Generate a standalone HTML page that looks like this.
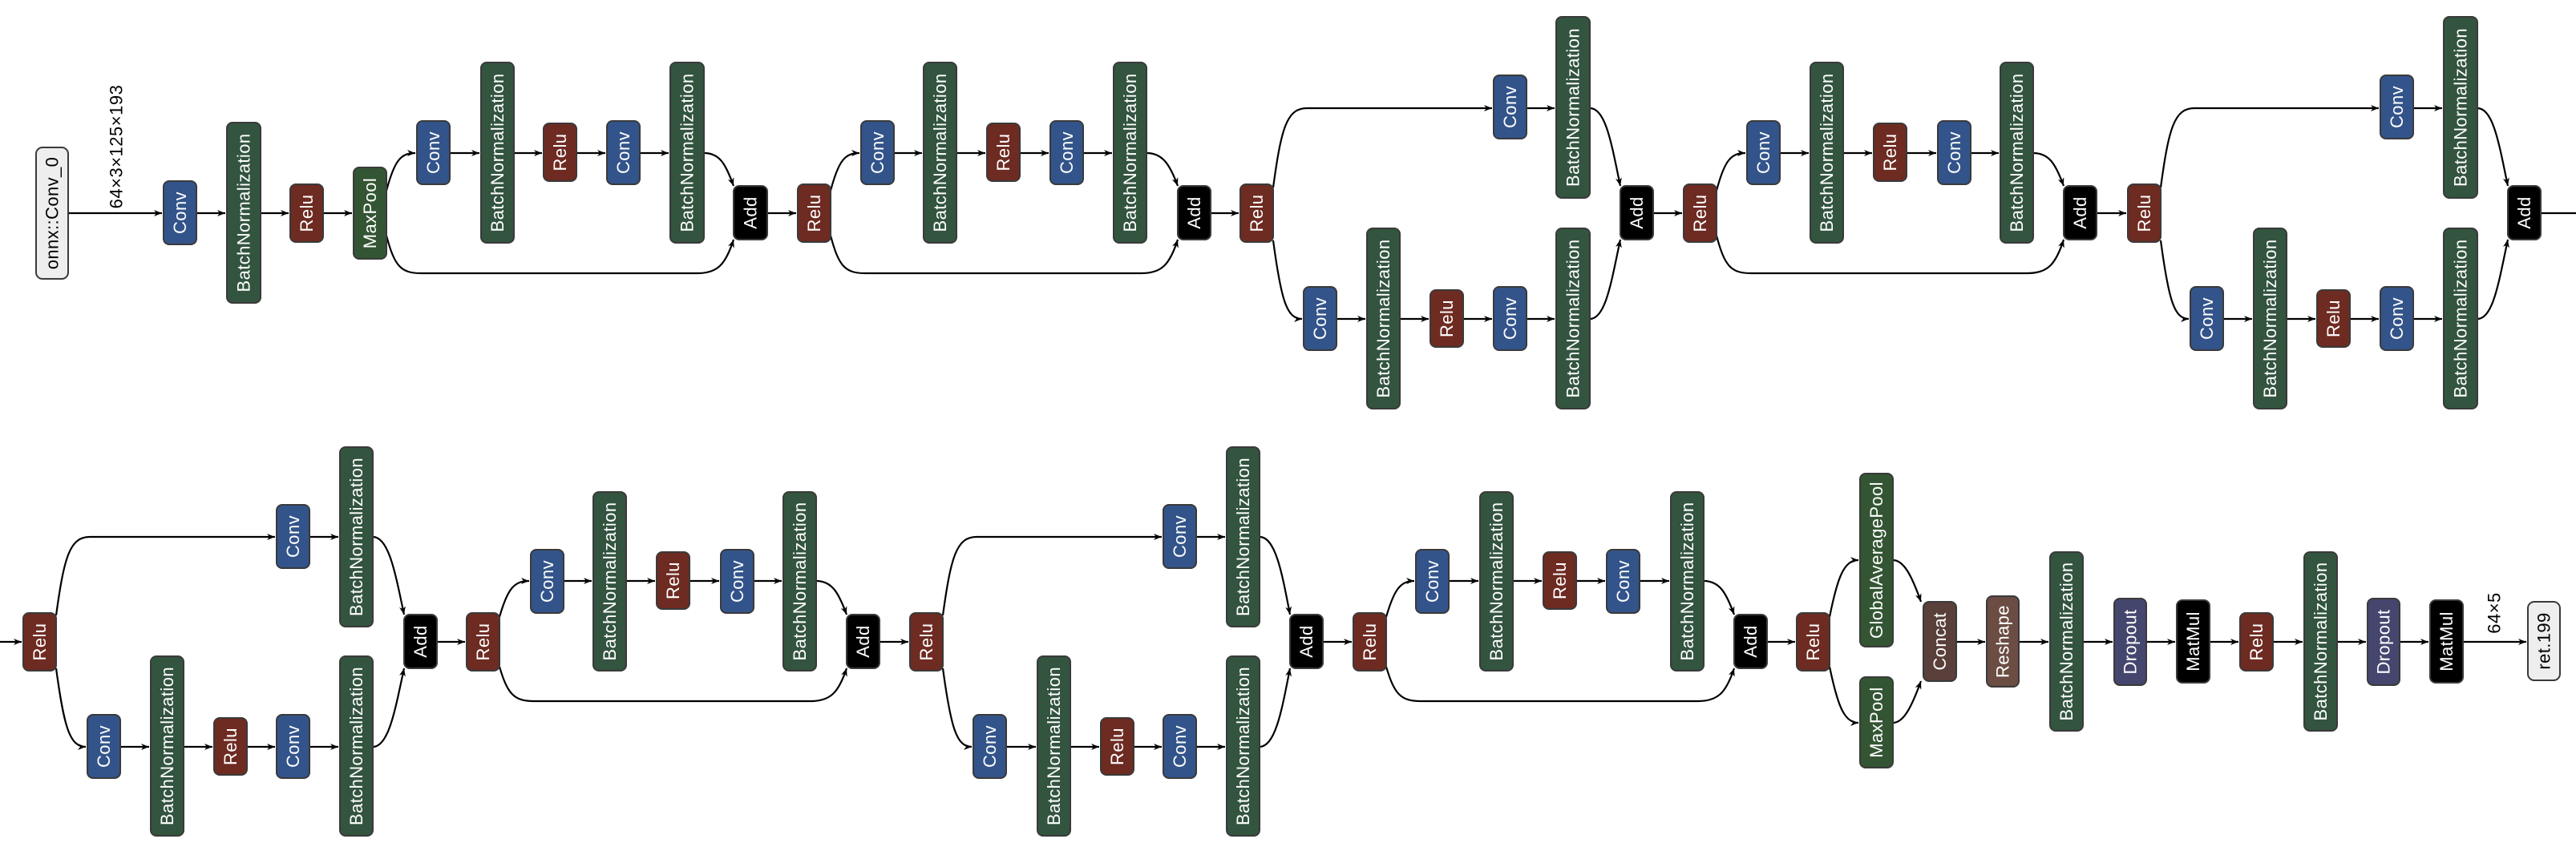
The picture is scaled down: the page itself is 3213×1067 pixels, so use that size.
<!DOCTYPE html>
<html><head><meta charset="utf-8"><style>
html,body{margin:0;padding:0;background:#fff;}
svg{display:block;}
text{font-family:"Liberation Sans",sans-serif;font-size:22px;fill:#fff;text-anchor:middle;dominant-baseline:central;letter-spacing:0.4px;}
.n{stroke:#3a3a3a;stroke-width:2;}
.cv{fill:#33548a}.bn{fill:#33543f}.re{fill:#6e2b22}.mp{fill:#335533}.ad{fill:#000}
.io{fill:#eeeeee}.cc{fill:#5a403a}.rs{fill:#6b4d43}.dr{fill:#45466e}
path.e{fill:none;stroke:#000;stroke-width:2.2;marker-end:url(#a)}
</style></head><body>
<svg width="3213" height="1067" viewBox="0 0 3213 1067" xmlns="http://www.w3.org/2000/svg">
<defs><marker id="a" viewBox="0 0 10 8" refX="10" refY="4" markerWidth="10" markerHeight="8" markerUnits="userSpaceOnUse" orient="auto"><path d="M0,0 L10,4 L0,8 L3,4z" fill="#000"/></marker></defs>

<path class="e" d="M85,266 L202,266"/>
<path class="e" d="M245,266 L281,266"/>
<path class="e" d="M325,266 L360,266"/>
<path class="e" d="M403,266 L439,266"/>
<path class="e" d="M482,238 C492,200 500,191 518,191"/>
<path class="e" d="M561,191 L598,191"/>
<path class="e" d="M641,191 L676,191"/>
<path class="e" d="M719,191 L755,191"/>
<path class="e" d="M798,191 L834,191"/>
<path class="e" d="M878,191 C898,191 905,205 915,232"/>
<path class="e" d="M482,294 C492,332 500,341 525,341 L870,341 C895,341 905,330 915,299"/>
<path class="e" d="M957,266 L993,266"/>
<path class="e" d="M1036,238 C1046,200 1054,191 1072,191"/>
<path class="e" d="M1115,191 L1150,191"/>
<path class="e" d="M1193,191 L1229,191"/>
<path class="e" d="M1272,191 L1308,191"/>
<path class="e" d="M1351,191 L1387,191"/>
<path class="e" d="M1430,191 C1450,191 1459,205 1469,232"/>
<path class="e" d="M1036,294 C1046,332 1054,341 1079,341 L1424,341 C1449,341 1459,330 1469,299"/>
<path class="e" d="M1510,266 L1545,266"/>
<path class="e" d="M1588,234 C1598,160 1605,135 1630,135 L1861,135"/>
<path class="e" d="M1904,135 L1939,135"/>
<path class="e" d="M1983,135 C2003,135 2010,180 2021,232"/>
<path class="e" d="M1588,300 C1598,375 1605,398 1624,398"/>
<path class="e" d="M1667,398 L1703,398"/>
<path class="e" d="M1746,398 L1782,398"/>
<path class="e" d="M1825,398 L1861,398"/>
<path class="e" d="M1904,398 L1939,398"/>
<path class="e" d="M1983,398 C2003,398 2010,350 2021,299"/>
<path class="e" d="M2062,266 L2098,266"/>
<path class="e" d="M2141,238 C2151,200 2159,191 2177,191"/>
<path class="e" d="M2220,191 L2256,191"/>
<path class="e" d="M2299,191 L2335,191"/>
<path class="e" d="M2378,191 L2415,191"/>
<path class="e" d="M2458,191 L2493,191"/>
<path class="e" d="M2536,191 C2556,191 2564,205 2574,232"/>
<path class="e" d="M2141,294 C2151,332 2159,341 2184,341 L2529,341 C2554,341 2564,330 2574,299"/>
<path class="e" d="M2615,266 L2652,266"/>
<path class="e" d="M2695,234 C2705,160 2712,135 2737,135 L2967,135"/>
<path class="e" d="M3010,135 L3046,135"/>
<path class="e" d="M3090,135 C3110,135 3117,180 3128,232"/>
<path class="e" d="M2695,300 C2705,375 2712,398 2730,398"/>
<path class="e" d="M2773,398 L2809,398"/>
<path class="e" d="M2852,398 L2888,398"/>
<path class="e" d="M2931,398 L2967,398"/>
<path class="e" d="M3010,398 L3046,398"/>
<path class="e" d="M3090,398 C3110,398 3117,350 3128,299"/>
<path d="M3169,266 L3213,266" fill="none" stroke="#000" stroke-width="2.2"/>

<path class="e" d="M0,801 L27,801"/>
<path class="e" d="M70,768 C80,695 87,670 112,670 L343,670"/>
<path class="e" d="M386,670 L422,670"/>
<path class="e" d="M465,670 C485,670 493,715 504,767"/>
<path class="e" d="M70,834 C80,908 87,932 107,932"/>
<path class="e" d="M150,932 L186,932"/>
<path class="e" d="M229,932 L265,932"/>
<path class="e" d="M308,932 L343,932"/>
<path class="e" d="M386,932 L422,932"/>
<path class="e" d="M465,932 C485,932 493,885 504,834"/>
<path class="e" d="M545,801 L580,801"/>
<path class="e" d="M623,770 C633,735 641,725 660,725"/>
<path class="e" d="M703,725 L738,725"/>
<path class="e" d="M781,725 L817,725"/>
<path class="e" d="M860,725 L897,725"/>
<path class="e" d="M940,725 L975,725"/>
<path class="e" d="M1018,725 C1038,725 1046,740 1056,767"/>
<path class="e" d="M623,832 C633,866 641,875 666,875 L1011,875 C1036,875 1046,864 1056,834"/>
<path class="e" d="M1097,801 L1133,801"/>
<path class="e" d="M1176,768 C1186,695 1193,670 1218,670 L1449,670"/>
<path class="e" d="M1492,670 L1528,670"/>
<path class="e" d="M1571,670 C1591,670 1599,715 1609,767"/>
<path class="e" d="M1176,834 C1186,908 1193,932 1212,932"/>
<path class="e" d="M1255,932 L1292,932"/>
<path class="e" d="M1335,932 L1371,932"/>
<path class="e" d="M1414,932 L1449,932"/>
<path class="e" d="M1492,932 L1528,932"/>
<path class="e" d="M1571,932 C1591,932 1599,885 1609,834"/>
<path class="e" d="M1650,801 L1686,801"/>
<path class="e" d="M1729,770 C1739,735 1747,725 1764,725"/>
<path class="e" d="M1807,725 L1844,725"/>
<path class="e" d="M1887,725 L1923,725"/>
<path class="e" d="M1966,725 L2002,725"/>
<path class="e" d="M2045,725 L2082,725"/>
<path class="e" d="M2125,725 C2145,725 2153,740 2163,767"/>
<path class="e" d="M1729,832 C1739,866 1747,875 1772,875 L2118,875 C2143,875 2153,864 2163,834"/>
<path class="e" d="M2204,801 L2239,801"/>
<path class="e" d="M2282,770 C2292,720 2300,699 2318,699"/>
<path class="e" d="M2282,832 C2292,880 2300,902 2318,902"/>
<path class="e" d="M2361,699 C2375,699 2385,720 2396,751"/>
<path class="e" d="M2361,902 C2375,902 2385,880 2396,850"/>
<path class="e" d="M2440,801 L2476,801"/>
<path class="e" d="M2518,801 L2555,801"/>
<path class="e" d="M2598,801 L2635,801"/>
<path class="e" d="M2677,801 L2713,801"/>
<path class="e" d="M2756,801 L2792,801"/>
<path class="e" d="M2835,801 L2872,801"/>
<path class="e" d="M2915,801 L2951,801"/>
<path class="e" d="M2993,801 L3029,801"/>
<path class="e" d="M3072,801 L3151,801"/>

<text x="145" y="183" transform="rotate(-90 145 183)" style="fill:#000;font-size:22px;letter-spacing:0.5px">64×3×125×193</text>
<text x="3111" y="765" transform="rotate(-90 3111 765)" style="fill:#000;font-size:22px;letter-spacing:0.5px">64×5</text>

<rect class="n io" x="45" y="184" width="40" height="164" rx="8"/><text x="65" y="266" transform="rotate(-90 65 266)" style="fill:#000">onnx::Conv_0</text>
<rect class="n cv" x="204" y="226" width="41" height="79" rx="7"/><text x="224.5" y="265.5" transform="rotate(-90 224.5 265.5)">Conv</text>
<rect class="n bn" x="283" y="153" width="42" height="225" rx="7"/><text x="304" y="265.5" transform="rotate(-90 304 265.5)">BatchNormalization</text>
<rect class="n re" x="362" y="230" width="41" height="72" rx="7"/><text x="382.5" y="266" transform="rotate(-90 382.5 266)">Relu</text>
<rect class="n mp" x="441" y="209" width="41" height="114" rx="7"/><text x="461.5" y="266" transform="rotate(-90 461.5 266)">MaxPool</text>
<rect class="n cv" x="520" y="151" width="41" height="79" rx="7"/><text x="540.5" y="190.5" transform="rotate(-90 540.5 190.5)">Conv</text>
<rect class="n bn" x="600" y="78" width="41" height="225" rx="7"/><text x="620.5" y="190.5" transform="rotate(-90 620.5 190.5)">BatchNormalization</text>
<rect class="n re" x="678" y="154" width="41" height="72" rx="7"/><text x="698.5" y="190" transform="rotate(-90 698.5 190)">Relu</text>
<rect class="n cv" x="757" y="151" width="41" height="79" rx="7"/><text x="777.5" y="190.5" transform="rotate(-90 777.5 190.5)">Conv</text>
<rect class="n bn" x="836" y="78" width="42" height="225" rx="7"/><text x="857" y="190.5" transform="rotate(-90 857 190.5)">BatchNormalization</text>
<rect class="n ad" x="915" y="232" width="42" height="67" rx="7"/><text x="936" y="265.5" transform="rotate(-90 936 265.5)">Add</text>
<rect class="n re" x="995" y="230" width="41" height="72" rx="7"/><text x="1015.5" y="266" transform="rotate(-90 1015.5 266)">Relu</text>
<rect class="n cv" x="1074" y="151" width="41" height="79" rx="7"/><text x="1094.5" y="190.5" transform="rotate(-90 1094.5 190.5)">Conv</text>
<rect class="n bn" x="1152" y="78" width="41" height="225" rx="7"/><text x="1172.5" y="190.5" transform="rotate(-90 1172.5 190.5)">BatchNormalization</text>
<rect class="n re" x="1231" y="154" width="41" height="72" rx="7"/><text x="1251.5" y="190" transform="rotate(-90 1251.5 190)">Relu</text>
<rect class="n cv" x="1310" y="151" width="41" height="79" rx="7"/><text x="1330.5" y="190.5" transform="rotate(-90 1330.5 190.5)">Conv</text>
<rect class="n bn" x="1389" y="78" width="41" height="225" rx="7"/><text x="1409.5" y="190.5" transform="rotate(-90 1409.5 190.5)">BatchNormalization</text>
<rect class="n ad" x="1469" y="232" width="41" height="67" rx="7"/><text x="1489.5" y="265.5" transform="rotate(-90 1489.5 265.5)">Add</text>
<rect class="n re" x="1547" y="230" width="41" height="72" rx="7"/><text x="1567.5" y="266" transform="rotate(-90 1567.5 266)">Relu</text>
<rect class="n cv" x="1863" y="94" width="41" height="79" rx="7"/><text x="1883.5" y="133.5" transform="rotate(-90 1883.5 133.5)">Conv</text>
<rect class="n bn" x="1941" y="21" width="42" height="226" rx="7"/><text x="1962" y="134" transform="rotate(-90 1962 134)">BatchNormalization</text>
<rect class="n cv" x="1626" y="358" width="41" height="79" rx="7"/><text x="1646.5" y="397.5" transform="rotate(-90 1646.5 397.5)">Conv</text>
<rect class="n bn" x="1705" y="285" width="41" height="225" rx="7"/><text x="1725.5" y="397.5" transform="rotate(-90 1725.5 397.5)">BatchNormalization</text>
<rect class="n re" x="1784" y="362" width="41" height="71" rx="7"/><text x="1804.5" y="397.5" transform="rotate(-90 1804.5 397.5)">Relu</text>
<rect class="n cv" x="1863" y="358" width="41" height="79" rx="7"/><text x="1883.5" y="397.5" transform="rotate(-90 1883.5 397.5)">Conv</text>
<rect class="n bn" x="1941" y="285" width="42" height="225" rx="7"/><text x="1962" y="397.5" transform="rotate(-90 1962 397.5)">BatchNormalization</text>
<rect class="n ad" x="2021" y="232" width="41" height="67" rx="7"/><text x="2041.5" y="265.5" transform="rotate(-90 2041.5 265.5)">Add</text>
<rect class="n re" x="2100" y="230" width="41" height="72" rx="7"/><text x="2120.5" y="266" transform="rotate(-90 2120.5 266)">Relu</text>
<rect class="n cv" x="2179" y="151" width="41" height="79" rx="7"/><text x="2199.5" y="190.5" transform="rotate(-90 2199.5 190.5)">Conv</text>
<rect class="n bn" x="2258" y="78" width="41" height="225" rx="7"/><text x="2278.5" y="190.5" transform="rotate(-90 2278.5 190.5)">BatchNormalization</text>
<rect class="n re" x="2337" y="154" width="41" height="72" rx="7"/><text x="2357.5" y="190" transform="rotate(-90 2357.5 190)">Relu</text>
<rect class="n cv" x="2417" y="151" width="41" height="79" rx="7"/><text x="2437.5" y="190.5" transform="rotate(-90 2437.5 190.5)">Conv</text>
<rect class="n bn" x="2495" y="78" width="41" height="225" rx="7"/><text x="2515.5" y="190.5" transform="rotate(-90 2515.5 190.5)">BatchNormalization</text>
<rect class="n ad" x="2574" y="232" width="41" height="67" rx="7"/><text x="2594.5" y="265.5" transform="rotate(-90 2594.5 265.5)">Add</text>
<rect class="n re" x="2654" y="230" width="41" height="72" rx="7"/><text x="2674.5" y="266" transform="rotate(-90 2674.5 266)">Relu</text>
<rect class="n cv" x="2969" y="94" width="41" height="79" rx="7"/><text x="2989.5" y="133.5" transform="rotate(-90 2989.5 133.5)">Conv</text>
<rect class="n bn" x="3048" y="21" width="42" height="226" rx="7"/><text x="3069" y="134" transform="rotate(-90 3069 134)">BatchNormalization</text>
<rect class="n cv" x="2732" y="358" width="41" height="79" rx="7"/><text x="2752.5" y="397.5" transform="rotate(-90 2752.5 397.5)">Conv</text>
<rect class="n bn" x="2811" y="285" width="41" height="225" rx="7"/><text x="2831.5" y="397.5" transform="rotate(-90 2831.5 397.5)">BatchNormalization</text>
<rect class="n re" x="2890" y="362" width="41" height="71" rx="7"/><text x="2910.5" y="397.5" transform="rotate(-90 2910.5 397.5)">Relu</text>
<rect class="n cv" x="2969" y="358" width="41" height="79" rx="7"/><text x="2989.5" y="397.5" transform="rotate(-90 2989.5 397.5)">Conv</text>
<rect class="n bn" x="3048" y="285" width="42" height="225" rx="7"/><text x="3069" y="397.5" transform="rotate(-90 3069 397.5)">BatchNormalization</text>
<rect class="n ad" x="3128" y="232" width="41" height="67" rx="7"/><text x="3148.5" y="265.5" transform="rotate(-90 3148.5 265.5)">Add</text>

<rect class="n re" x="29" y="765" width="41" height="72" rx="7"/><text x="49.5" y="801" transform="rotate(-90 49.5 801)">Relu</text>
<rect class="n cv" x="345" y="630" width="41" height="79" rx="7"/><text x="365.5" y="669.5" transform="rotate(-90 365.5 669.5)">Conv</text>
<rect class="n bn" x="424" y="558" width="41" height="224" rx="7"/><text x="444.5" y="670" transform="rotate(-90 444.5 670)">BatchNormalization</text>
<rect class="n cv" x="109" y="892" width="41" height="79" rx="7"/><text x="129.5" y="931.5" transform="rotate(-90 129.5 931.5)">Conv</text>
<rect class="n bn" x="188" y="819" width="41" height="224" rx="7"/><text x="208.5" y="931" transform="rotate(-90 208.5 931)">BatchNormalization</text>
<rect class="n re" x="267" y="896" width="41" height="71" rx="7"/><text x="287.5" y="931.5" transform="rotate(-90 287.5 931.5)">Relu</text>
<rect class="n cv" x="345" y="892" width="41" height="79" rx="7"/><text x="365.5" y="931.5" transform="rotate(-90 365.5 931.5)">Conv</text>
<rect class="n bn" x="424" y="819" width="41" height="224" rx="7"/><text x="444.5" y="931" transform="rotate(-90 444.5 931)">BatchNormalization</text>
<rect class="n ad" x="504" y="767" width="41" height="67" rx="7"/><text x="524.5" y="800.5" transform="rotate(-90 524.5 800.5)">Add</text>
<rect class="n re" x="582" y="765" width="41" height="72" rx="7"/><text x="602.5" y="801" transform="rotate(-90 602.5 801)">Relu</text>
<rect class="n cv" x="662" y="686" width="41" height="79" rx="7"/><text x="682.5" y="725.5" transform="rotate(-90 682.5 725.5)">Conv</text>
<rect class="n bn" x="740" y="614" width="41" height="223" rx="7"/><text x="760.5" y="725.5" transform="rotate(-90 760.5 725.5)">BatchNormalization</text>
<rect class="n re" x="819" y="689" width="41" height="71" rx="7"/><text x="839.5" y="724.5" transform="rotate(-90 839.5 724.5)">Relu</text>
<rect class="n cv" x="899" y="686" width="41" height="79" rx="7"/><text x="919.5" y="725.5" transform="rotate(-90 919.5 725.5)">Conv</text>
<rect class="n bn" x="977" y="614" width="41" height="223" rx="7"/><text x="997.5" y="725.5" transform="rotate(-90 997.5 725.5)">BatchNormalization</text>
<rect class="n ad" x="1056" y="767" width="41" height="67" rx="7"/><text x="1076.5" y="800.5" transform="rotate(-90 1076.5 800.5)">Add</text>
<rect class="n re" x="1135" y="765" width="41" height="72" rx="7"/><text x="1155.5" y="801" transform="rotate(-90 1155.5 801)">Relu</text>
<rect class="n cv" x="1451" y="630" width="41" height="79" rx="7"/><text x="1471.5" y="669.5" transform="rotate(-90 1471.5 669.5)">Conv</text>
<rect class="n bn" x="1530" y="558" width="41" height="224" rx="7"/><text x="1550.5" y="670" transform="rotate(-90 1550.5 670)">BatchNormalization</text>
<rect class="n cv" x="1214" y="892" width="41" height="79" rx="7"/><text x="1234.5" y="931.5" transform="rotate(-90 1234.5 931.5)">Conv</text>
<rect class="n bn" x="1294" y="819" width="41" height="224" rx="7"/><text x="1314.5" y="931" transform="rotate(-90 1314.5 931)">BatchNormalization</text>
<rect class="n re" x="1373" y="896" width="41" height="71" rx="7"/><text x="1393.5" y="931.5" transform="rotate(-90 1393.5 931.5)">Relu</text>
<rect class="n cv" x="1451" y="892" width="41" height="79" rx="7"/><text x="1471.5" y="931.5" transform="rotate(-90 1471.5 931.5)">Conv</text>
<rect class="n bn" x="1530" y="819" width="41" height="224" rx="7"/><text x="1550.5" y="931" transform="rotate(-90 1550.5 931)">BatchNormalization</text>
<rect class="n ad" x="1609" y="767" width="41" height="67" rx="7"/><text x="1629.5" y="800.5" transform="rotate(-90 1629.5 800.5)">Add</text>
<rect class="n re" x="1688" y="765" width="41" height="72" rx="7"/><text x="1708.5" y="801" transform="rotate(-90 1708.5 801)">Relu</text>
<rect class="n cv" x="1766" y="686" width="41" height="79" rx="7"/><text x="1786.5" y="725.5" transform="rotate(-90 1786.5 725.5)">Conv</text>
<rect class="n bn" x="1846" y="614" width="41" height="223" rx="7"/><text x="1866.5" y="725.5" transform="rotate(-90 1866.5 725.5)">BatchNormalization</text>
<rect class="n re" x="1925" y="689" width="41" height="71" rx="7"/><text x="1945.5" y="724.5" transform="rotate(-90 1945.5 724.5)">Relu</text>
<rect class="n cv" x="2004" y="686" width="41" height="79" rx="7"/><text x="2024.5" y="725.5" transform="rotate(-90 2024.5 725.5)">Conv</text>
<rect class="n bn" x="2084" y="614" width="41" height="223" rx="7"/><text x="2104.5" y="725.5" transform="rotate(-90 2104.5 725.5)">BatchNormalization</text>
<rect class="n ad" x="2163" y="767" width="41" height="67" rx="7"/><text x="2183.5" y="800.5" transform="rotate(-90 2183.5 800.5)">Add</text>
<rect class="n re" x="2241" y="765" width="41" height="72" rx="7"/><text x="2261.5" y="801" transform="rotate(-90 2261.5 801)">Relu</text>
<rect class="n mp" x="2320" y="591" width="41" height="216" rx="7"/><text x="2340.5" y="699" transform="rotate(-90 2340.5 699)">GlobalAveragePool</text>
<rect class="n mp" x="2320" y="845" width="41" height="113" rx="7"/><text x="2340.5" y="901.5" transform="rotate(-90 2340.5 901.5)">MaxPool</text>
<rect class="n cc" x="2399" y="751" width="41" height="99" rx="7"/><text x="2419.5" y="800.5" transform="rotate(-90 2419.5 800.5)">Concat</text>
<rect class="n rs" x="2478" y="744" width="40" height="113" rx="7"/><text x="2498" y="800.5" transform="rotate(-90 2498 800.5)">Reshape</text>
<rect class="n bn" x="2557" y="689" width="41" height="223" rx="7"/><text x="2577.5" y="800.5" transform="rotate(-90 2577.5 800.5)">BatchNormalization</text>
<rect class="n dr" x="2637" y="747" width="40" height="108" rx="7"/><text x="2657" y="801" transform="rotate(-90 2657 801)">Dropout</text>
<rect class="n ad" x="2715" y="749" width="41" height="103" rx="7"/><text x="2735.5" y="800.5" transform="rotate(-90 2735.5 800.5)">MatMul</text>
<rect class="n re" x="2794" y="765" width="41" height="72" rx="7"/><text x="2814.5" y="801" transform="rotate(-90 2814.5 801)">Relu</text>
<rect class="n bn" x="2874" y="689" width="41" height="223" rx="7"/><text x="2894.5" y="800.5" transform="rotate(-90 2894.5 800.5)">BatchNormalization</text>
<rect class="n dr" x="2953" y="747" width="40" height="108" rx="7"/><text x="2973" y="801" transform="rotate(-90 2973 801)">Dropout</text>
<rect class="n ad" x="3031" y="749" width="41" height="103" rx="7"/><text x="3051.5" y="800.5" transform="rotate(-90 3051.5 800.5)">MatMul</text>
<rect class="n io" x="3153" y="751" width="40" height="98" rx="8"/><text x="3173" y="800" transform="rotate(-90 3173 800)" style="fill:#000">ret.199</text>
</svg>
</body></html>
